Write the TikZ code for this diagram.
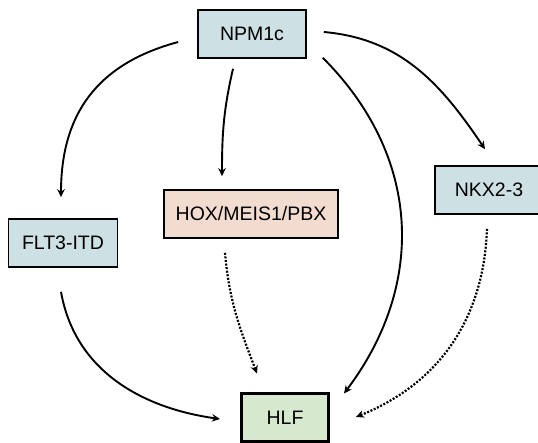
\documentclass[tikz,border=0pt]{standalone}
\usepackage{fontspec}
\setmainfont{Liberation Sans}
\usetikzlibrary{arrows.meta,positioning}

\definecolor{geneblue}{RGB}{205,224,228}
\definecolor{genepink}{RGB}{242,220,208}
\definecolor{genegreen}{RGB}{214,232,206}

\begin{document}
\begin{tikzpicture}[x=1pt,y=1pt,
    gene/.style={shape=rectangle,draw=black,line width=1.6pt,minimum height=48pt,
      inner sep=0pt,font=\fontsize{19.5}{22}\selectfont},
    link/.style={-{Stealth[length=8pt,width=7.5pt]},line width=1.9pt},
    weak/.style={link,dash pattern=on 2pt off 1.6pt,line width=2.2pt}]
   \useasboundingbox (0,0) rectangle (538,443);
   \clip (0,0) rectangle (538,443);
   \node[gene,fill=geneblue,minimum width=108pt] (NPM) at (252,409) {NPM1c};
    \node[gene,fill=genepink,minimum width=174pt] (HOX) at (251,229) {HOX/MEIS1/PBX};
    \node[gene,fill=geneblue,minimum width=109pt] (FLT) at (63,200) {FLT3-ITD};
    \node[gene,fill=geneblue,minimum width=108pt] (NKX) at (489,253) {NKX2-3};
    \node[gene,fill=genegreen,minimum width=87pt,line width=3pt] (HLF) at (285,25) {HLF};
    %solid arrows from NPM1c
    \draw[link] ([xshift=-19pt,yshift=-8pt]NPM.west) to[out=195,in=90,looseness=1.1] ([xshift=-2pt,yshift=21pt]FLT.north);
    \draw[link] ([xshift=-19pt,yshift=-10pt]NPM.south) to[out=257,in=90] ([xshift=-29pt,yshift=13pt]HOX.north);
    \draw[link] ([xshift=17pt,yshift=2pt]NPM.east) to[out=-5,in=124] ([xshift=-4pt,yshift=16pt]NKX.north);
    \draw[link] ([xshift=16pt,yshift=1pt]NPM.south east) to[out=-45,in=53,looseness=1.05] ([xshift=14pt,yshift=-1pt]HLF.north east);
    \draw[link] ([xshift=-2pt,yshift=-24pt]FLT.south) to[out=280,in=172] ([xshift=-20pt,yshift=-1pt]HLF.west);
    %dotted arrows
    \draw[weak] ([xshift=-26pt,yshift=-14pt]HOX.south) to[out=275,in=111] ([xshift=-28pt,yshift=19pt]HLF.north);
    \draw[weak] ([xshift=-2pt,yshift=-14pt]NKX.south) to[out=268,in=22] ([xshift=26pt,yshift=1pt]HLF.east);
\end{tikzpicture}
\end{document}
